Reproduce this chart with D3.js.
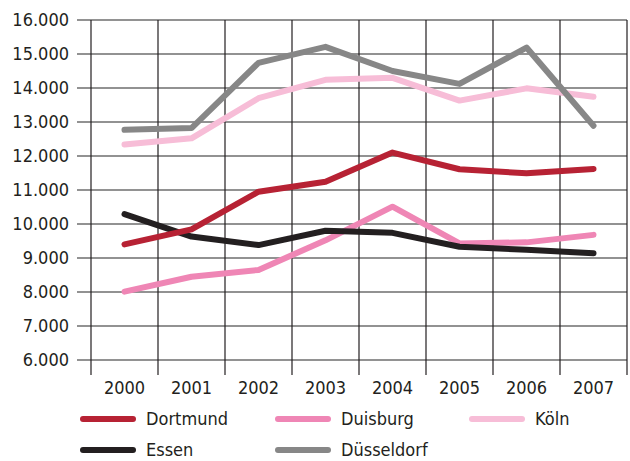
<!DOCTYPE html>
<meta charset="utf-8">
<script src="https://d3js.org/d3.v7.min.js"></script>
<style>
  body { margin: 0; background: #fff; }
  text { font-family: "DejaVu Sans Condensed", "DejaVu Sans", sans-serif; font-stretch: condensed; fill: #231f20; }
</style>
<body>
<script>

// data
var years = ["2000", "2001", "2002", "2003", "2004", "2005", "2006", "2007"];
var dortmund   = [9400, 9840, 10950, 11240, 12100, 11610, 11490, 11620];
var duisburg   = [8010, 8450, 8650, 9520, 10510, 9430, 9460, 9680];
var koeln      = [12340, 12520, 13700, 14240, 14300, 13630, 13990, 13740];
var essen      = [10290, 9630, 9380, 9800, 9740, 9330, 9240, 9140];
var duesseldorf = [12770, 12820, 14740, 15210, 14500, 14120, 15190, 12890];
var yTicks = [6000, 7000, 8000, 9000, 10000, 11000, 12000, 13000, 14000, 15000, 16000];

var series = [
  { name: "Dortmund",   values: dortmund,    color: "#b72234" },
  { name: "Duisburg",   values: duisburg,    color: "#ef86b5" },
  { name: "Köln",       values: koeln,       color: "#f7bdd7" },
  { name: "Essen",      values: essen,       color: "#231f20" },
  { name: "Düsseldorf", values: duesseldorf, color: "#878787" }
];
// draw order (back to front) as in the original
var drawOrder = ["Duisburg", "Köln", "Düsseldorf", "Essen", "Dortmund"];

var width = 630, height = 461;
var mLeft = 91, mRight = 627, mTop = 20, mBottom = 360;

var svg = d3.select("body").append("svg")
    .attr("width", width)
    .attr("height", height);

var x = d3.scaleBand().domain(years).range([mLeft, mRight]);
var y = d3.scaleLinear().domain([6000, 16000]).range([mBottom, mTop]);

var fmt = function(v) { return d3.format(",")(v).replace(/,/g, "."); };

// horizontal grid lines with ticks
svg.append("g").selectAll("line")
    .data(yTicks)
    .enter().append("line")
    .attr("x1", mLeft - 14)
    .attr("x2", mRight)
    .attr("y1", function(d) { return y(d); })
    .attr("y2", function(d) { return y(d); })
    .style("stroke", "#6e6e6e")
    .style("stroke-width", 1.5);

// vertical grid lines, running below the plot
var vx = years.map(function(d) { return x(d); }).concat([mRight]);
svg.append("g").selectAll("line")
    .data(vx)
    .enter().append("line")
    .attr("x1", function(d) { return d; })
    .attr("x2", function(d) { return d; })
    .attr("y1", mTop)
    .attr("y2", mBottom + 15)
    .style("stroke", "#231f20")
    .style("stroke-width", 1.2);

// y labels
svg.append("g").selectAll("text")
    .data(yTicks)
    .enter().append("text")
    .attr("x", 69)
    .attr("y", function(d) { return y(d); })
    .attr("dy", "0.36em")
    .attr("text-anchor", "end")
    .style("font-size", "18px")
    .text(fmt);

// x labels
svg.append("g").selectAll("text")
    .data(years)
    .enter().append("text")
    .attr("x", function(d) { return x(d) + x.bandwidth() / 2; })
    .attr("y", 394)
    .attr("text-anchor", "middle")
    .style("font-size", "18px")
    .text(function(d) { return d; });

// lines
var line = d3.line()
    .x(function(d, i) { return x(years[i]) + x.bandwidth() / 2; })
    .y(function(d) { return y(d); });

drawOrder.forEach(function(n) {
  var s = series.find(function(d) { return d.name === n; });
  svg.append("path")
      .attr("d", line(s.values))
      .style("fill", "none")
      .style("stroke", s.color)
      .style("stroke-width", 6)
      .style("stroke-linejoin", "round")
      .style("stroke-linecap", "round");
});

// legend
var legendPos = [[83, 419], [278, 419], [472, 419], [83, 450], [278, 450]];
var lg = svg.append("g").selectAll("g")
    .data(series)
    .enter().append("g")
    .attr("transform", function(d, i) { return "translate(" + legendPos[i][0] + "," + legendPos[i][1] + ")"; });

lg.append("line")
    .attr("x1", 0).attr("x2", 50)
    .attr("y1", 0).attr("y2", 0)
    .style("stroke", function(d) { return d.color; })
    .style("stroke-width", 6)
    .style("stroke-linecap", "round");

lg.append("text")
    .attr("x", 63)
    .attr("y", 0)
    .attr("dy", "0.36em")
    .style("font-size", "18px")
    .text(function(d) { return d.name; });

</script>
</body>
